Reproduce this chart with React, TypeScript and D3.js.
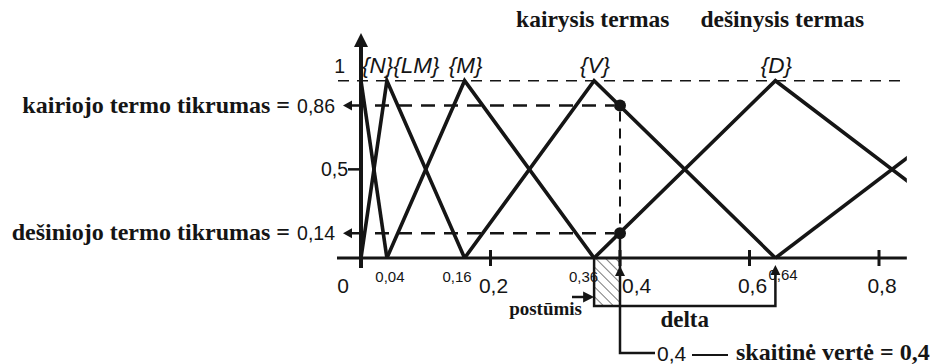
import React from "react";
import * as d3 from "d3";

// ---- data ----
const termNames = ["{N}", "{LM}", "{M}", "{V}", "{D}"];
// peak positions of consecutive triangular terms (last one is the next term, cut off)
const termPeaks = [0, 0.04, 0.16, 0.36, 0.64, 1.0];
const xTickValues = [0, 0.2, 0.4, 0.6, 0.8];
const xTickLabels = ["0", "0,2", "0,4", "0,6", "0,8"];
const breakValues = [0.04, 0.16, 0.36, 0.64];
const breakLabels = ["0,04", "0,16", "0,36", "0,64"];
const yTickValues = [1, 0.5];
const yTickLabels = ["1", "0,5"];
const inputValue = 0.4;
const leftTruth = 0.86;
const rightTruth = 0.14;
const leftTruthLabel = "0,86";
const rightTruthLabel = "0,14";
const xDomainMax = 0.843;

const SANS = "'Liberation Sans', Arial, sans-serif";
const SERIF = "'Liberation Serif', 'Times New Roman', serif";
const INK = "#151515";

function tri(tipX: number, tipY: number, dir: "up" | "left" | "right", len: number, half: number) {
  if (dir === "up") return `M${tipX},${tipY} L${tipX - half},${tipY + len} L${tipX + half},${tipY + len} Z`;
  if (dir === "left") return `M${tipX},${tipY} L${tipX + len},${tipY - half} L${tipX + len},${tipY + half} Z`;
  return `M${tipX},${tipY} L${tipX - len},${tipY - half} L${tipX - len},${tipY + half} Z`;
}

export default function App() {
  const x = d3.scaleLinear().domain([0, 0.8]).range([361, 879]);
  const y = d3.scaleLinear().domain([0, 1]).range([258, 80.7]);
  const line = d3
    .line<[number, number]>()
    .x((d) => x(d[0]))
    .y((d) => y(d[1]));

  // build each triangular term from the peaks
  const termPaths: [number, number][][] = termPeaks.map((p, i) => {
    const pts: [number, number][] = [];
    if (i > 0) pts.push([termPeaks[i - 1], 0]);
    pts.push([p, 1]);
    if (i < termPeaks.length - 1) pts.push([termPeaks[i + 1], 0]);
    return pts;
  });

  const x0 = x(0);
  const xEnd = x(xDomainMax);
  const xIn = x(inputValue);
  const yBase = y(0);
  const bracketY = 306;
  const delta0 = termPeaks[3];
  const delta1 = termPeaks[4];

  return (
    <svg
      width={939}
      height={364}
      style={{ position: "absolute", left: 0, top: 0, background: "#fff" }}
    >
      <defs>
        <clipPath id="plotClip">
          <rect x={x0 - 5} y={0} width={xEnd - x0 + 5} height={yBase + 3} />
        </clipPath>
        <pattern id="hatch" patternUnits="userSpaceOnUse" width={7} height={7} patternTransform="rotate(-45)">
          <line x1={0} y1={0} x2={0} y2={7} stroke="#222" strokeWidth={1.2} />
        </pattern>
      </defs>

      {/* titles */}
      <text x={x(termPeaks[3]) - 78} y={27} fontFamily={SERIF} fontWeight="bold" fontSize={23.5} fill={INK}>
        kairysis termas
      </text>
      <text x={x(termPeaks[4]) - 75} y={27} fontFamily={SERIF} fontWeight="bold" fontSize={23.5} fill={INK}>
        dešinysis termas
      </text>

      {/* dashed line at 1 */}
      <line x1={338} x2={xEnd + 1} y1={y(1)} y2={y(1)} stroke={INK} strokeWidth={1.6} strokeDasharray="11 8" />

      {/* term labels */}
      <text x={x(0) + 1} y={73} fontFamily={SANS} fontStyle="italic" fontSize={22.5} fill={INK}>
        {termNames[0]}
        <tspan>{termNames[1]}</tspan>
      </text>
      {termNames.slice(2).map((t, i) => (
        <text
          key={t}
          x={x(termPeaks[i + 2]) + 1}
          y={73}
          textAnchor="middle"
          fontFamily={SANS}
          fontStyle="italic"
          fontSize={22.5}
          fill={INK}
        >
          {t}
        </text>
      ))}

      {/* hatched displacement */}
      <rect x={x(delta0)} y={yBase} width={xIn - x(delta0)} height={bracketY - yBase} fill="url(#hatch)" />

      {/* triangular terms */}
      <g clipPath="url(#plotClip)">
        {termPaths.map((pts, i) => (
          <path key={i} d={line(pts) || ""} fill="none" stroke={INK} strokeWidth={3.6} strokeLinejoin="miter" />
        ))}
      </g>

      {/* truth dashed lines */}
      <line x1={352} x2={xIn - 6} y1={y(leftTruth)} y2={y(leftTruth)} stroke={INK} strokeWidth={2.4} strokeDasharray="14 9" />
      <line x1={352} x2={xIn - 6} y1={y(rightTruth)} y2={y(rightTruth)} stroke={INK} strokeWidth={2.4} strokeDasharray="14 9" />
      <line x1={xIn} x2={xIn} y1={y(leftTruth) + 6} y2={y(rightTruth) - 6} stroke={INK} strokeWidth={2} strokeDasharray="10 7" />
      <path d={tri(343, y(leftTruth), "left", 9, 5)} fill={INK} />
      <path d={tri(343, y(rightTruth), "left", 9, 5)} fill={INK} />

      {/* x axis */}
      <line x1={337} x2={xEnd} y1={yBase} y2={yBase} stroke={INK} strokeWidth={3} />
      {xTickValues.slice(1).map((v) => (
        <line key={v} x1={x(v)} x2={x(v)} y1={yBase - 8} y2={yBase + 8} stroke={INK} strokeWidth={3} />
      ))}
      {/* y axis */}
      <line x1={x0} x2={x0} y1={45} y2={268} stroke={INK} strokeWidth={4} />
      <path d={tri(x0, 33, "up", 14, 7)} fill={INK} />
      <line x1={348} x2={x0} y1={y(0.5)} y2={y(0.5)} stroke={INK} strokeWidth={2.5} />

      {/* y labels */}
      {yTickValues.map((v, i) => (
        <text
          key={v}
          x={v === 1 ? 345 : 348}
          y={v === 1 ? y(v) - 8 : y(v) + 7}
          textAnchor="end"
          fontFamily={SANS}
          fontSize={19.5}
          fill={INK}
        >
          {yTickLabels[i]}
        </text>
      ))}
      <text x={335} y={y(leftTruth) + 7} textAnchor="end" fontFamily={SANS} fontSize={19.5} fill={INK}>
        {leftTruthLabel}
      </text>
      <text x={335} y={y(rightTruth) + 7} textAnchor="end" fontFamily={SANS} fontSize={19.5} fill={INK}>
        {rightTruthLabel}
      </text>
      <text x={290} y={y(leftTruth) + 7} textAnchor="end" fontFamily={SERIF} fontWeight="bold" fontSize={24} fill={INK}>
        kairiojo termo tikrumas =
      </text>
      <text x={290} y={y(rightTruth) + 7} textAnchor="end" fontFamily={SERIF} fontWeight="bold" fontSize={24} fill={INK}>
        dešiniojo termo tikrumas =
      </text>

      {/* dots */}
      <circle cx={xIn} cy={y(leftTruth)} r={6} fill={INK} />
      <circle cx={xIn} cy={y(rightTruth)} r={6} fill={INK} />

      {/* x labels */}
      {xTickValues.map((v, i) => (
        <text
          key={v}
          x={v === inputValue ? x(v) + 2 : v === 0 ? x(v) - 18 : x(v) + 3}
          y={293}
          textAnchor={v === inputValue ? "start" : "middle"}
          fontFamily={SANS}
          fontSize={21}
          fill={INK}
        >
          {xTickLabels[i]}
        </text>
      ))}
      {breakValues.map((v, i) => {
        const anchor = i === 0 ? "middle" : i === 3 ? "start" : "end";
        const dx = i === 0 ? 3 : i === 1 ? 7 : i === 2 ? 4 : -7;
        return (
          <text
            key={v}
            x={x(v) + dx}
            y={i === 3 ? 280 : 282}
            textAnchor={anchor}
            fontFamily={SANS}
            fontSize={15}
            fill={INK}
          >
            {breakLabels[i]}
          </text>
        );
      })}

      {/* bracket (delta) */}
      <path
        d={`M${x(delta0)},${yBase} V${bracketY} H${x(delta1)} V${yBase + 10}`}
        fill="none"
        stroke={INK}
        strokeWidth={2.5}
      />
      <path d={tri(x(delta1), 265, "up", 10, 5)} fill={INK} />

      {/* input value line */}
      <path d={`M${xIn},${y(rightTruth)} V353 H655`} fill="none" stroke={INK} strokeWidth={2.5} />
      <path d={tri(xIn, 266, "up", 10, 5)} fill={INK} />

      {/* postūmis arrow */}
      <line x1={572} x2={x(delta0) - 8} y1={297} y2={297} stroke={INK} strokeWidth={2.5} />
      <path d={tri(x(delta0), 297, "right", 11, 5.5)} fill={INK} />
      <text x={582} y={315} textAnchor="end" fontFamily={SERIF} fontWeight="bold" fontSize={19} fill={INK}>
        postūmis
      </text>
      <text x={(x(delta0) + x(delta1)) / 2} y={327} textAnchor="middle" fontFamily={SERIF} fontWeight="bold" fontSize={23} fill={INK}>
        delta
      </text>

      {/* bottom value annotation */}
      <text x={657} y={361} fontFamily={SANS} fontSize={21} fill={INK}>
        0,4
      </text>
      <line x1={692} x2={728} y1={355} y2={355} stroke={INK} strokeWidth={2} />
      <text x={736} y={360} fontFamily={SERIF} fontWeight="bold" fontSize={24} fill={INK}>
        skaitinė vertė = 0,4
      </text>
    </svg>
  );
}
